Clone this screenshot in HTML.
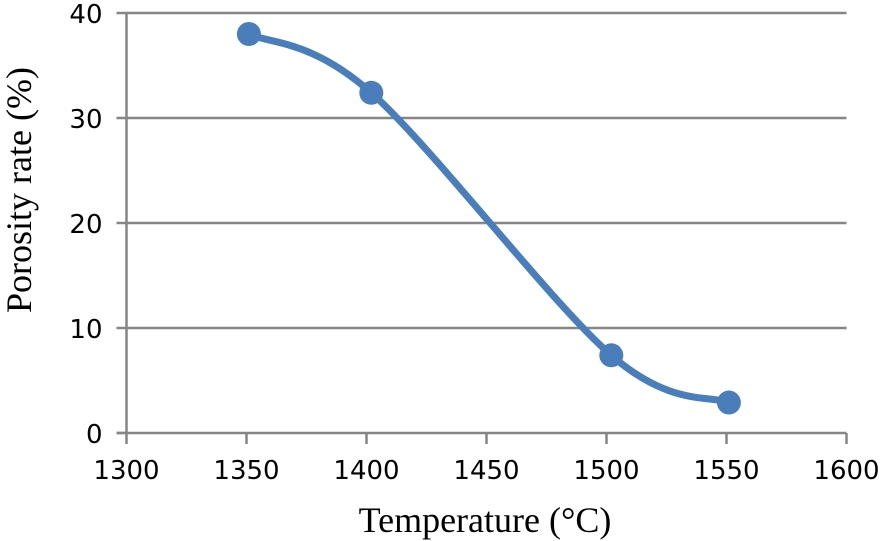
<!DOCTYPE html>
<html><head><meta charset="utf-8"><style>
body{margin:0;background:#fff;}
svg{display:block;}
</style></head><body>
<svg id="chart" width="886" height="541" viewBox="0 0 886 541" xmlns="http://www.w3.org/2000/svg">
<g id="grid"></g>
<g id="axes"></g>
<g id="series"></g>
<text x="485" y="532" text-anchor="middle" font-family="Liberation Serif, serif" font-size="36" fill="#000">Temperature (°C)</text>
<text transform="translate(31,190) rotate(-90)" text-anchor="middle" font-family="Liberation Serif, serif" font-size="36" fill="#000">Porosity rate (%)</text>
</svg>
<script>
const xTicks=[1300,1350,1400,1450,1500,1550,1600];
const yTicks=[0,10,20,30,40];
const temps=[1351,1402,1502,1551];
const porosity=[38.0,32.4,7.4,2.9];
const X0=126.5,X1=846.5,Y0=433,Y1=13;
const xs=v=>X0+(v-1300)/300*(X1-X0);
const ys=v=>Y0-(v/40)*(Y0-Y1);
const NS='http://www.w3.org/2000/svg';
function mk(tag,attrs,parent){const e=document.createElementNS(NS,tag);for(const k in attrs)e.setAttribute(k,attrs[k]);parent.appendChild(e);return e;}
const grid=document.getElementById('grid'),axes=document.getElementById('axes'),series=document.getElementById('series');
yTicks.forEach(t=>{
 if(t>0){const l=mk('line',{x1:X0,x2:X1,y1:ys(t),y2:ys(t),stroke:'#868686','stroke-width':2.5},grid);
 
 }
 const tk=mk('line',{x1:X0-10,x2:X0,y1:ys(t),y2:ys(t),stroke:'#868686','stroke-width':2.5},axes);
 
 
 const tx=mk('text',{x:X0-24,y:ys(t)+10,'text-anchor':'end','font-family':'DejaVu Sans, sans-serif','font-size':26,fill:'#000'},axes);
 tx.textContent=t;
 
 
});
const ya=mk('line',{x1:X0,x2:X0,y1:Y1,y2:Y0,stroke:'#868686','stroke-width':2.5},axes);


const xa=mk('line',{x1:X0-10,x2:X1,y1:Y0,y2:Y0,stroke:'#868686','stroke-width':2.5},axes);


xTicks.forEach(t=>{
 const tk=mk('line',{x1:xs(t),x2:xs(t),y1:Y0,y2:Y0+11,stroke:'#868686','stroke-width':2.5},axes);
 
 
 const tx=mk('text',{x:xs(t),y:Y0+46,'text-anchor':'middle','font-family':'DejaVu Sans, sans-serif','font-size':26,fill:'#000'},axes);
 tx.textContent=t;
 
 
});
const P=temps.map((t,i)=>[xs(t),ys(porosity[i])]);
let d='M'+P[0][0]+','+P[0][1];
for(let i=0;i<P.length-1;i++){
 const p0=P[Math.max(0,i-1)],p1=P[i],p2=P[i+1],p3=P[Math.min(P.length-1,i+2)];
 const k=1/6;
 const c1=[p1[0]+(p2[0]-p0[0])*k,p1[1]+(p2[1]-p0[1])*k];
 const c2=[p2[0]-(p3[0]-p1[0])*k,p2[1]-(p3[1]-p1[1])*k];
 d+=' C'+c1[0]+','+c1[1]+' '+c2[0]+','+c2[1]+' '+p2[0]+','+p2[1];
}
const path=mk('path',{d:d,fill:'none',stroke:'#4a7ebb','stroke-width':7,'stroke-linecap':'round'},series);


P.forEach((p,i)=>{
 const c=mk('circle',{cx:p[0],cy:p[1],r:12,fill:'#4a7ebb'},series);
 
 
});
</script>
</body></html>
